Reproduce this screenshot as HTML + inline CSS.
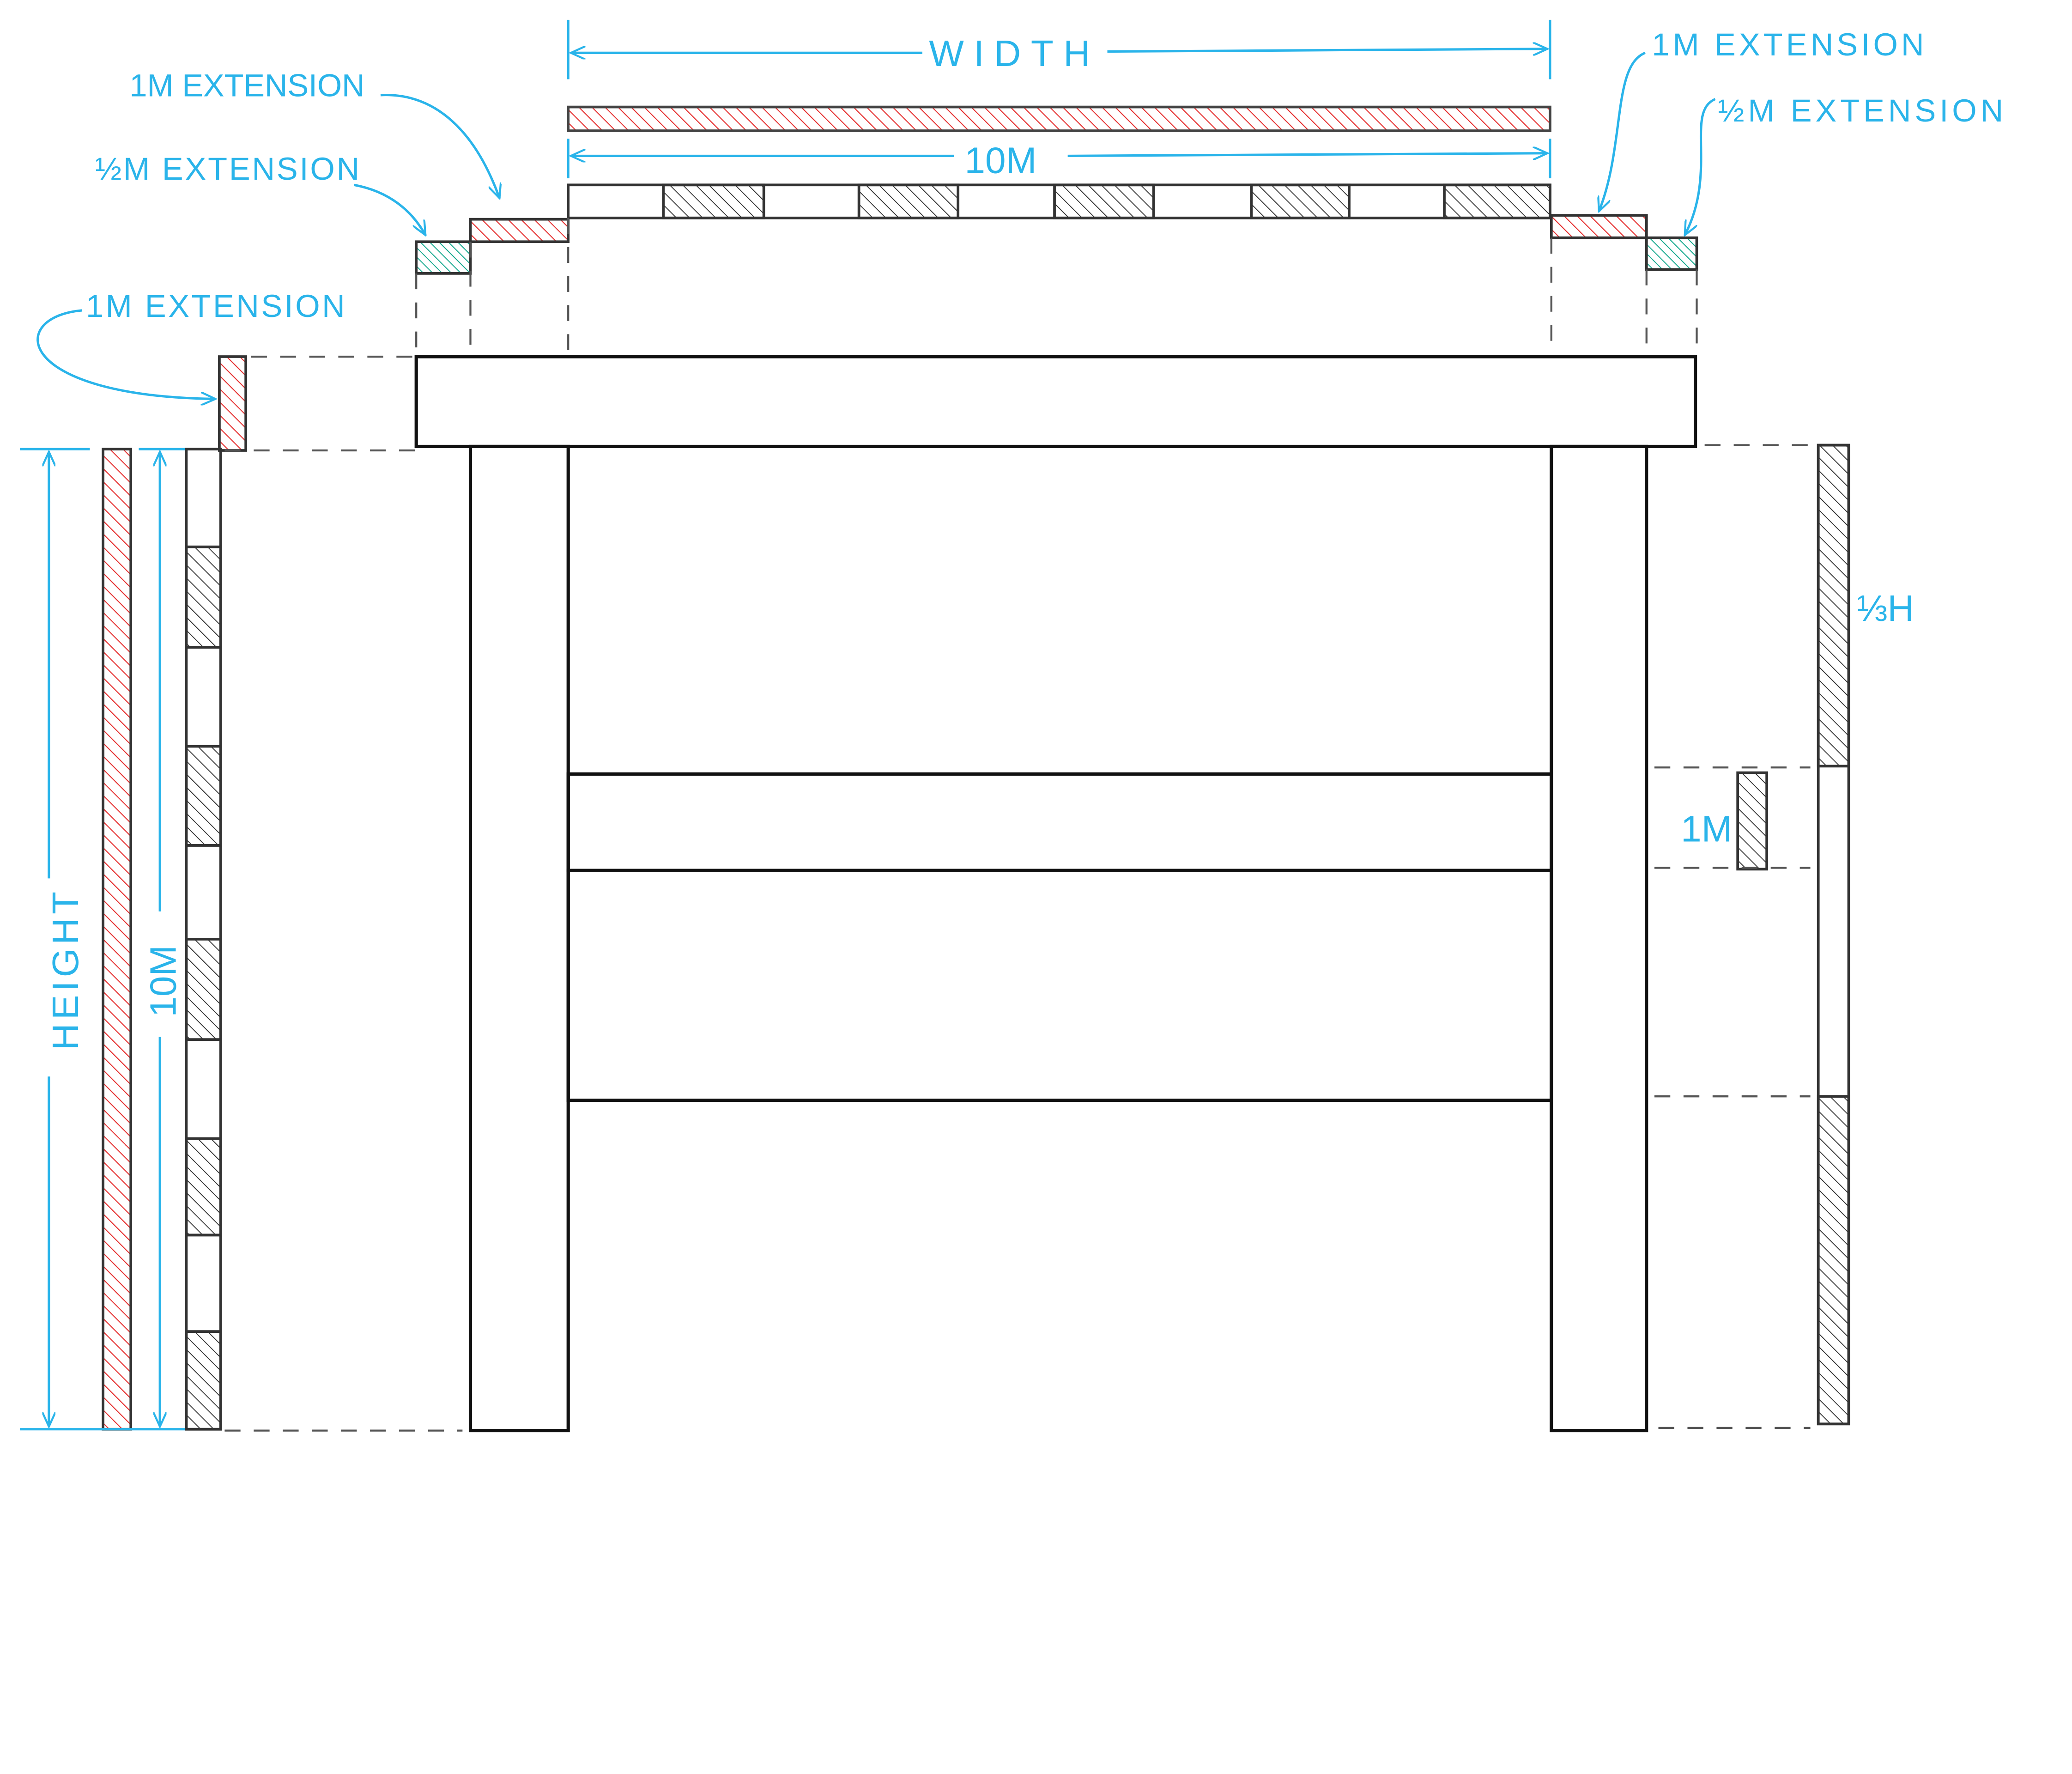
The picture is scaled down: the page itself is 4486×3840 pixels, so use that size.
<!DOCTYPE html>
<html><head><meta charset="utf-8"><style>
html,body{margin:0;padding:0;background:#fff;}
svg{display:block;}
text{font-family:"Liberation Sans",sans-serif;fill:#2ab4ea;}
</style></head><body>
<svg width="4486" height="3840" viewBox="0 0 1568 1343" preserveAspectRatio="none" xmlns="http://www.w3.org/2000/svg">
<defs>
<pattern id="hk" patternUnits="userSpaceOnUse" width="7" height="7" patternTransform="rotate(-45)"><line x1="0" y1="0" x2="0" y2="7" stroke="#333" stroke-width="1.3"/></pattern>
<pattern id="hr" patternUnits="userSpaceOnUse" width="7" height="7" patternTransform="rotate(-45)"><line x1="0" y1="0" x2="0" y2="7" stroke="#e53030" stroke-width="1.5"/></pattern>
<pattern id="hg" patternUnits="userSpaceOnUse" width="5" height="5" patternTransform="rotate(-45)"><line x1="0" y1="0" x2="0" y2="5" stroke="#16a98e" stroke-width="1.4"/></pattern>
<marker id="ar" markerWidth="12" markerHeight="10" refX="11" refY="5" orient="auto" markerUnits="userSpaceOnUse"><path d="M0,0 L11,5 L0,10" fill="none" stroke="#2ab4ea" stroke-width="1.5"/></marker>
</defs>
<g fill="none" stroke="#111" stroke-width="2.5">
<rect x="315" y="270" width="968" height="68" fill="#fff"/>
<rect x="356" y="338" width="74" height="745"/>
<rect x="1174" y="338" width="72" height="745"/>
<rect x="430" y="586" width="744" height="73"/>
<rect x="430" y="659" width="744" height="174"/>
</g>
<!-- top bars -->
<rect x="430" y="81" width="743" height="18" fill="url(#hr)" stroke="#444" stroke-width="2"/>
<g stroke="#333" stroke-width="2">
<rect x="430" y="140" width="743" height="25" fill="none"/>
<rect x="502" y="140" width="76" height="25" fill="url(#hk)"/>
<rect x="650" y="140" width="75" height="25" fill="url(#hk)"/>
<rect x="798" y="140" width="75" height="25" fill="url(#hk)"/>
<rect x="947" y="140" width="74" height="25" fill="url(#hk)"/>
<rect x="1093" y="140" width="80" height="25" fill="url(#hk)"/>
<rect x="356" y="166" width="74" height="17" fill="url(#hr)"/>
<rect x="315" y="183" width="41" height="24" fill="url(#hg)"/>
<rect x="1174" y="163" width="72" height="17" fill="url(#hr)"/>
<rect x="1246" y="180" width="38" height="24" fill="url(#hg)"/>
<!-- left -->
<rect x="166" y="270" width="20" height="71" fill="url(#hr)"/>
<rect x="78" y="340" width="21" height="742" fill="url(#hr)"/>
<rect x="141" y="340" width="26" height="742" fill="none"/>
<rect x="141" y="414" width="26" height="76" fill="url(#hk)"/>
<rect x="141" y="565" width="26" height="75" fill="url(#hk)"/>
<rect x="141" y="711" width="26" height="76" fill="url(#hk)"/>
<rect x="141" y="862" width="26" height="73" fill="url(#hk)"/>
<rect x="141" y="1008" width="26" height="74" fill="url(#hk)"/>
<line x1="141" y1="490" x2="167" y2="490"/><line x1="141" y1="640" x2="167" y2="640"/><line x1="141" y1="787" x2="167" y2="787"/><line x1="141" y1="935" x2="167" y2="935"/>
<!-- right -->
<rect x="1376" y="337" width="23" height="741" fill="none"/>
<rect x="1376" y="337" width="23" height="243" fill="url(#hk)"/>
<rect x="1376" y="830" width="23" height="248" fill="url(#hk)"/>
<rect x="1315" y="585" width="22" height="73" fill="url(#hk)"/>
</g>
<g stroke="#555" stroke-width="1.5" stroke-dasharray="12,10" fill="none">
<line x1="315" y1="207" x2="315" y2="268"/><line x1="356" y1="183" x2="356" y2="268"/><line x1="430" y1="165" x2="430" y2="268"/>
<line x1="1174" y1="180" x2="1174" y2="268"/><line x1="1246" y1="204" x2="1246" y2="268"/><line x1="1284" y1="204" x2="1284" y2="268"/>
<line x1="190" y1="270" x2="315" y2="270"/><line x1="170" y1="341" x2="315" y2="341"/><line x1="170" y1="1083" x2="350" y2="1083"/>
<line x1="1290" y1="337" x2="1370" y2="337"/>
<line x1="1252" y1="581" x2="1370" y2="581"/><line x1="1252" y1="657" x2="1370" y2="657"/>
<line x1="1252" y1="830" x2="1370" y2="830"/><line x1="1255" y1="1081" x2="1370" y2="1081"/>
</g>
<!-- cyan dims -->
<g stroke="#2ab4ea" stroke-width="1.8" fill="none">
<line x1="430" y1="15" x2="430" y2="60"/><line x1="1173" y1="15" x2="1173" y2="60"/>
<line x1="698" y1="40" x2="432" y2="40" marker-end="url(#ar)"/><line x1="838" y1="39" x2="1171" y2="37" marker-end="url(#ar)"/>
<line x1="430" y1="105" x2="430" y2="135"/><line x1="1173" y1="105" x2="1173" y2="135"/>
<line x1="722" y1="118" x2="432" y2="118" marker-end="url(#ar)"/><line x1="808" y1="118" x2="1171" y2="116" marker-end="url(#ar)"/>
<line x1="15" y1="340" x2="68" y2="340"/><line x1="15" y1="1082" x2="140" y2="1082"/><line x1="105" y1="340" x2="140" y2="340"/>
<line x1="37" y1="665" x2="37" y2="342" marker-end="url(#ar)"/><line x1="37" y1="815" x2="37" y2="1080" marker-end="url(#ar)"/>
<line x1="121" y1="690" x2="121" y2="342" marker-end="url(#ar)"/><line x1="121" y1="785" x2="121" y2="1080" marker-end="url(#ar)"/>
<path d="M288,72 C330,70 360,100 378,150" marker-end="url(#ar)"/>
<path d="M268,140 C295,145 312,160 322,178" marker-end="url(#ar)"/>
<path d="M62,235 C5,240 10,300 163,302" marker-end="url(#ar)"/>
<path d="M1245,40 C1220,50 1230,110 1210,160" marker-end="url(#ar)"/>
<path d="M1298,75 C1275,85 1300,130 1275,178" marker-end="url(#ar)"/>
</g>
<text x="703" y="50" font-size="28" textLength="122">WIDTH</text>
<text x="730" y="131" font-size="28">10M</text>
<text x="98" y="73" font-size="24" textLength="178">1M EXTENSION</text>
<text x="72" y="136" font-size="24" textLength="200">½M EXTENSION</text>
<text x="65" y="240" font-size="24" textLength="196">1M EXTENSION</text>
<text x="1250" y="42" font-size="24" textLength="206">1M EXTENSION</text>
<text x="1300" y="92" font-size="24" textLength="216">½M EXTENSION</text>
<text x="1272" y="637" font-size="28">1M</text>
<text x="1405" y="470" font-size="28">⅓H</text>
<text transform="translate(59,795) rotate(-90)" font-size="28" textLength="120">HEIGHT</text>
<text transform="translate(133,770) rotate(-90)" font-size="28">10M</text>
</svg>
</body></html>
